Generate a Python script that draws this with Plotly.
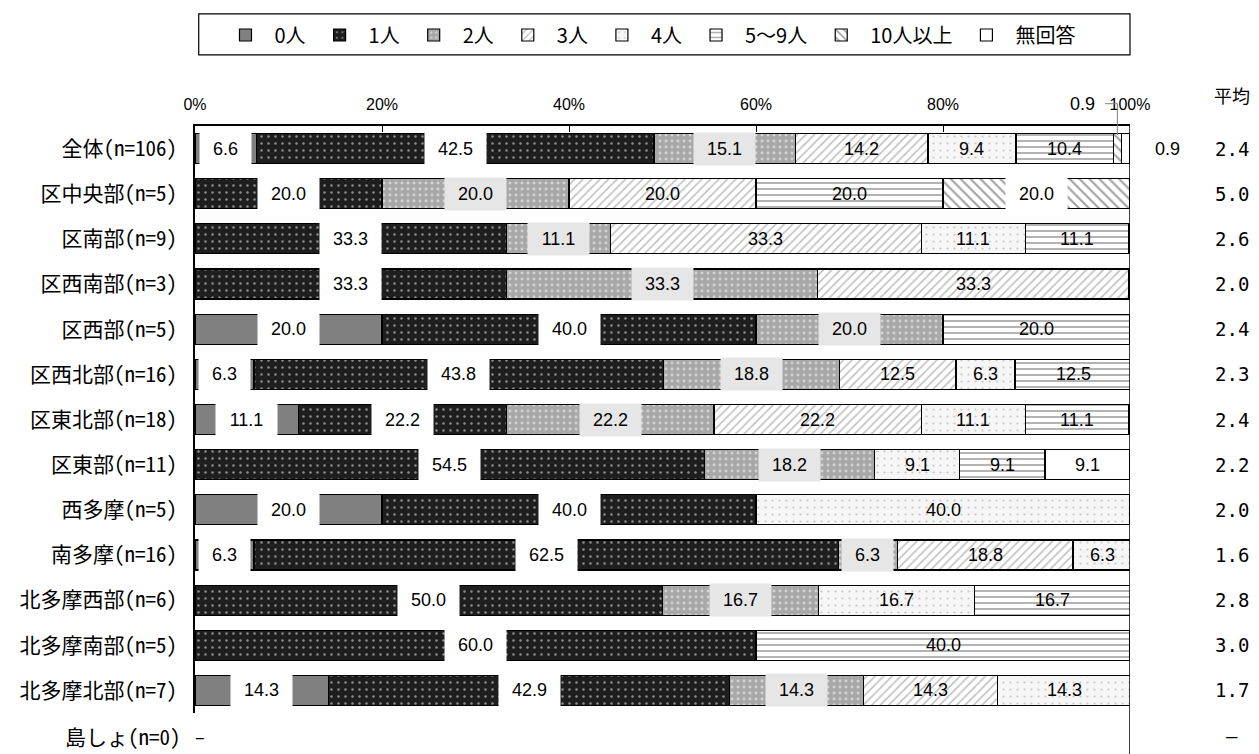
import plotly.graph_objects as go

categories = ["全体(n=106)", "区中央部(n=5)", "区南部(n=9)", "区西南部(n=3)", "区西部(n=5)",
              "区西北部(n=16)", "区東北部(n=18)", "区東部(n=11)", "西多摩(n=5)", "南多摩(n=16)",
              "北多摩西部(n=6)", "北多摩南部(n=5)", "北多摩北部(n=7)", "島しょ(n=0)"]
series_names = ["0人", "1人", "2人", "3人", "4人", "5～9人", "10人以上", "無回答"]
v_0 = [6.6, 0, 0, 0, 20.0, 6.3, 11.1, 0, 20.0, 6.3, 0, 0, 14.3, None]
v_1 = [42.5, 20.0, 33.3, 33.3, 40.0, 43.8, 22.2, 54.5, 40.0, 62.5, 50.0, 60.0, 42.9, None]
v_2 = [15.1, 20.0, 11.1, 33.3, 20.0, 18.8, 22.2, 18.2, 0, 6.3, 16.7, 0, 14.3, None]
v_3 = [14.2, 20.0, 33.3, 33.3, 0, 12.5, 22.2, 0, 0, 18.8, 0, 0, 14.3, None]
v_4 = [9.4, 0, 11.1, 0, 0, 6.3, 11.1, 9.1, 40.0, 6.3, 16.7, 0, 14.3, None]
v_5 = [10.4, 20.0, 11.1, 0, 20.0, 12.5, 11.1, 9.1, 0, 0, 16.7, 40.0, 0, None]
v_6 = [0.9, 20.0, 0, 0, 0, 0, 0, 0, 0, 0, 0, 0, 0, None]
v_7 = [0.9, 0, 0, 0, 0, 0, 0, 9.1, 0, 0, 0, 0, 0, None]
averages = ["2.4", "5.0", "2.6", "2.0", "2.4", "2.3", "2.4", "2.2", "2.0", "1.6", "2.8", "3.0", "1.7", "–"]
tick_vals = [0, 20, 40, 60, 80, 100]
tick_text = ["0%", "20%", "40%", "60%", "80%", "100%"]

values = [v_0, v_1, v_2, v_3, v_4, v_5, v_6, v_7]
n_rows = len(categories) - 1  # rows drawn inside the plot

styles = [
    dict(color="#808080", pattern=dict(shape="")),
    dict(color="#1e1e1e", pattern=dict(shape=".", fgcolor="#ffffff", bgcolor="#1e1e1e", size=7, solidity=0.1)),
    dict(color="#b0b0b0", pattern=dict(shape=".", fgcolor="#ffffff", bgcolor="#a8a8a8", size=6, solidity=0.18)),
    dict(color="#ffffff", pattern=dict(shape="/", fgcolor="#7a7a7a", bgcolor="#ffffff", size=6, solidity=0.25)),
    dict(color="#ffffff", pattern=dict(shape=".", fgcolor="#9a9a9a", bgcolor="#f6f6f6", size=7, solidity=0.08)),
    dict(color="#ffffff", pattern=dict(shape="-", fgcolor="#555555", bgcolor="#ffffff", size=6, solidity=0.3)),
    dict(color="#ffffff", pattern=dict(shape="\\", fgcolor="#444444", bgcolor="#ffffff", size=7, solidity=0.3)),
    dict(color="#ffffff", pattern=dict(shape="")),
]
label_bg = ["#ffffff", "#ffffff", "#e6e6e6", None, None, None, "#ffffff", None]

fig = go.Figure()
for name, vals, st in zip(series_names, values, styles):
    fig.add_trace(go.Bar(
        y=categories, x=vals, name=name, orientation="h",
        marker=dict(color=st["color"], pattern=st["pattern"], line=dict(color="#000000", width=1.2)),
        hoverinfo="skip",
    ))

LABEL_FONT = dict(family="Liberation Sans, Arial, sans-serif", size=18, color="#000000")
CAT_FONT = "Noto Sans Mono CJK JP, Noto Sans CJK JP, sans-serif"
AVG_FONT = dict(family="DejaVu Sans Mono, monospace", size=19, color="#000000")


def text_w(s):
    return sum(5.0 if c == "." else 10.0 for c in s)


TOP_Y = 1.038  # level of the top tick labels (paper)
annotations = []
shapes = []
for r in range(n_rows):
    cum = 0.0
    for si, vals in enumerate(values):
        v = vals[r]
        if not v:
            continue
        center = cum + v / 2
        txt = f"{v:.1f}"
        if v < 2:
            if si == len(values) - 1:
                # small last segment: label right of the bar
                annotations.append(dict(x=100, y=categories[r], xref="x", yref="y", text=txt,
                                        showarrow=False, xanchor="left", yanchor="middle",
                                        xshift=23, font=LABEL_FONT))
            else:
                # small segment: label above the axis with leader line
                annotations.append(dict(x=center, y=TOP_Y, xref="x", yref="paper", text=txt,
                                        showarrow=False, xanchor="right", yanchor="middle",
                                        xshift=-20, font=LABEL_FONT))
                shapes.append(dict(type="line", xref="x", yref="paper", x0=center, x1=center,
                                   y0=TOP_Y, y1=1 - (r + 0.2) / n_rows,
                                   line=dict(color="#808080", width=1)))
                annotations.append(dict(x=center, y=TOP_Y, xref="x", yref="paper", text="",
                                        showarrow=True, arrowhead=0, ax=-14, ay=0,
                                        arrowcolor="#808080", arrowwidth=1))
        else:
            bg = label_bg[si]
            ann = dict(x=center, y=categories[r], xref="x", yref="y", text=txt,
                       showarrow=False, font=LABEL_FONT, xanchor="center", yanchor="middle")
            if bg:
                ann.update(bgcolor=bg, width=text_w(txt) + 18, height=24, borderpad=4)
            annotations.append(ann)
        cum += v

# averages column
AVG_X = 1.109
annotations.append(dict(x=AVG_X, y=1.053, xref="paper", yref="paper", text="平均", showarrow=False,
                        xanchor="center", yanchor="middle",
                        font=dict(family="Noto Sans CJK JP", size=18, color="#000000")))
for r in range(n_rows):
    annotations.append(dict(x=AVG_X, y=categories[r], xref="paper", yref="y", text=averages[r],
                            showarrow=False, xanchor="center", yanchor="middle", font=AVG_FONT))
# last category (no bar)
last_y = -0.5 / n_rows
annotations.append(dict(x=0, y=last_y, xref="paper", yref="paper", text=categories[-1], showarrow=False,
                        xanchor="right", yanchor="middle", xshift=-12,
                        font=dict(family=CAT_FONT, size=21, color="#000000")))
annotations.append(dict(x=0, y=last_y, xref="paper", yref="paper", text="–", showarrow=False,
                        xanchor="left", yanchor="middle", xshift=-2,
                        font=dict(family="Noto Sans CJK JP", size=18, color="#000000")))
annotations.append(dict(x=AVG_X, y=last_y, xref="paper", yref="paper", text=averages[-1], showarrow=False,
                        xanchor="center", yanchor="middle", font=AVG_FONT))

# right border line extending to the bottom
shapes.append(dict(type="line", xref="x", yref="paper", x0=100, x1=100, y0=1, y1=-0.08,
                   line=dict(color="#000000", width=1.5)))
# legend box
shapes.append(dict(type="rect", xref="paper", yref="paper", x0=0.004, x1=1.0, y0=1.121, y1=1.191,
                   line=dict(color="#000000", width=1.2), fillcolor="rgba(0,0,0,0)"))

fig.update_layout(
    barmode="stack",
    bargap=0.336,
    width=1259, height=754,
    margin=dict(l=195, r=129, t=126, b=41, autoexpand=False),
    plot_bgcolor="#ffffff", paper_bgcolor="#ffffff",
    font=dict(family="Noto Sans CJK JP, sans-serif", size=16, color="#000000"),
    showlegend=True,
    legend=dict(orientation="h", x=0.485, xanchor="center", y=1.155, yanchor="middle",
                font=dict(family="Noto Sans CJK JP", size=20), bgcolor="rgba(0,0,0,0)",
                traceorder="normal", itemwidth=48, itemclick=False),
    xaxis=dict(side="top", range=[0, 100], tickvals=tick_vals, ticktext=tick_text, automargin=False,
               ticks="inside", ticklen=6, tickcolor="#000000", showline=True, linecolor="#000000",
               linewidth=1.5, showgrid=False, zeroline=False, ticklabelstandoff=8,
               tickfont=dict(family="Liberation Sans, Arial", size=16)),
    yaxis=dict(type="category", range=[n_rows - 0.5, -0.5], showline=True, linecolor="#000000",
               linewidth=1.5, showgrid=False, ticks="", ticklabelstandoff=12, automargin=False,
               tickfont=dict(family=CAT_FONT, size=21)),
    annotations=annotations,
    shapes=shapes,
)

fig.write_html("out.html", config={"displayModeBar": False},
               post_script="document.body.style.margin='0';")
